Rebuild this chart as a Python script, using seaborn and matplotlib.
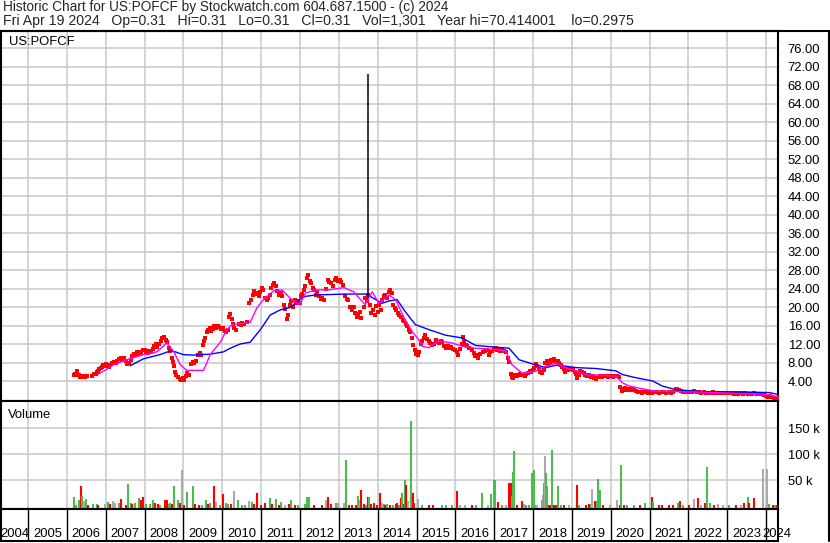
import matplotlib
matplotlib.use("Agg")
import matplotlib.pyplot as plt
import seaborn as sns
import pandas as pd

# ---------------- data ----------------
title_line1 = "Historic Chart for US:POFCF by Stockwatch.com 604.687.1500 - (c) 2024"
title_line2 = ("Fri Apr 19 2024   Op=0.31   Hi=0.31   Lo=0.31   Cl=0.31   Vol=1,301   "
               "Year hi=70.414001    lo=0.2975")
symbol = "US:POFCF"
volume_title = "Volume"

price_t = [
    2006.18, 2006.20, 2006.24, 2006.27, 2006.30, 2006.33, 2006.36, 2006.40, 2006.44, 2006.48, 2006.52,
    2006.66, 2006.70, 2006.74, 2006.78, 2006.81, 2006.84, 2006.87, 2006.90, 2006.93, 2006.96,
    2007.00, 2007.04, 2007.08, 2007.12, 2007.17, 2007.22, 2007.26, 2007.30, 2007.35, 2007.39, 2007.43, 2007.47,
    2007.52, 2007.56, 2007.60, 2007.64, 2007.68, 2007.72, 2007.76, 2007.80, 2007.84, 2007.88, 2007.92, 2007.96,
    2008.00, 2008.04, 2008.08, 2008.12, 2008.17, 2008.21, 2008.25, 2008.29, 2008.33, 2008.38, 2008.42, 2008.46, 2008.50,
    2008.54, 2008.58, 2008.62, 2008.66, 2008.70, 2008.73, 2008.76, 2008.79, 2008.82, 2008.86, 2008.90, 2008.94, 2008.98,
    2009.02, 2009.06, 2009.10, 2009.14, 2009.20, 2009.24, 2009.28, 2009.33, 2009.38, 2009.42, 2009.46, 2009.50,
    2009.53, 2009.56, 2009.60, 2009.64, 2009.68, 2009.72, 2009.76, 2009.80, 2009.84, 2009.88, 2009.92, 2009.96,
    2010.02, 2010.06, 2010.10, 2010.14, 2010.18, 2010.21, 2010.24, 2010.28, 2010.31, 2010.35, 2010.42, 2010.47,
    2010.52, 2010.56, 2010.64, 2010.70, 2010.74, 2010.78, 2010.82, 2010.86, 2010.90, 2010.94, 2010.98,
    2011.02, 2011.06, 2011.10, 2011.14, 2011.18, 2011.22, 2011.26, 2011.30, 2011.34, 2011.38, 2011.42, 2011.46,
    2011.50, 2011.54, 2011.58, 2011.62, 2011.66, 2011.70, 2011.74, 2011.78, 2011.82, 2011.86, 2011.90, 2011.95, 2011.99,
    2012.02, 2012.06, 2012.10, 2012.14, 2012.18, 2012.21, 2012.25, 2012.29, 2012.33, 2012.37, 2012.41, 2012.45,
    2012.50, 2012.54, 2012.58, 2012.62, 2012.68, 2012.72, 2012.76, 2012.80, 2012.86, 2012.90, 2012.94, 2012.98,
    2013.02, 2013.06, 2013.10, 2013.16, 2013.20, 2013.24, 2013.30, 2013.34, 2013.38, 2013.42, 2013.46, 2013.50,
    2013.54, 2013.58, 2013.64, 2013.68, 2013.72, 2013.76, 2013.80, 2013.84, 2013.88, 2013.92, 2013.96,
    2014.00, 2014.04, 2014.08, 2014.12, 2014.16, 2014.20, 2014.24, 2014.28, 2014.32, 2014.36, 2014.40, 2014.44, 2014.48,
    2014.52, 2014.56, 2014.60, 2014.64, 2014.68, 2014.72, 2014.76, 2014.80, 2014.84, 2014.88, 2014.91, 2014.95, 2014.99,
    2015.03, 2015.07, 2015.11, 2015.15, 2015.19, 2015.23, 2015.27, 2015.31, 2015.35, 2015.40, 2015.45,
    2015.50, 2015.54, 2015.58, 2015.62, 2015.66, 2015.72, 2015.76, 2015.80, 2015.86, 2015.90, 2015.95,
    2016.00, 2016.04, 2016.08, 2016.12, 2016.16, 2016.19, 2016.23, 2016.27, 2016.31, 2016.36, 2016.42,
    2016.47, 2016.51, 2016.55, 2016.59, 2016.64, 2016.70, 2016.76, 2016.82, 2016.86, 2016.90, 2016.95,
    2017.00, 2017.04, 2017.08, 2017.12, 2017.16, 2017.21, 2017.26, 2017.31, 2017.36, 2017.39, 2017.42, 2017.45, 2017.48,
    2017.51, 2017.55, 2017.59, 2017.63, 2017.67, 2017.71, 2017.75, 2017.79, 2017.83, 2017.87, 2017.91, 2017.95, 2017.99,
    2018.03, 2018.07, 2018.11, 2018.15, 2018.19, 2018.23, 2018.27, 2018.31, 2018.35, 2018.39, 2018.43, 2018.47, 2018.51,
    2018.55, 2018.59, 2018.63, 2018.67, 2018.71, 2018.75, 2018.79, 2018.83, 2018.87, 2018.91, 2018.95, 2018.99,
    2019.03, 2019.07, 2019.11, 2019.14, 2019.18, 2019.22, 2019.26, 2019.30, 2019.35, 2019.40, 2019.44,
    2019.49, 2019.54, 2019.58, 2019.62, 2019.66, 2019.72, 2019.77, 2019.82, 2019.87, 2019.92, 2019.97,
    2020.02, 2020.07, 2020.12, 2020.17, 2020.21, 2020.25, 2020.28, 2020.32, 2020.36, 2020.40, 2020.45,
    2020.50, 2020.55, 2020.60, 2020.66, 2020.71, 2020.76, 2020.81, 2020.86, 2020.91, 2020.96,
    2021.01, 2021.07, 2021.13, 2021.19, 2021.25, 2021.31, 2021.37, 2021.43, 2021.49,
    2021.55, 2021.61, 2021.67, 2021.71, 2021.75, 2021.80, 2021.86, 2021.92, 2021.97,
    2022.03, 2022.09, 2022.15, 2022.21, 2022.27, 2022.33, 2022.39, 2022.45, 2022.51,
    2022.57, 2022.63, 2022.69, 2022.75, 2022.81, 2022.87, 2022.93, 2022.98,
    2023.04, 2023.10, 2023.16, 2023.22, 2023.28, 2023.34, 2023.40, 2023.46,
    2023.52, 2023.58, 2023.64, 2023.70, 2023.76, 2023.82, 2023.88, 2023.94,
    2024.00, 2024.05, 2024.10, 2024.15, 2024.20, 2024.25, 2024.30,
]
price_c = [
    5.2, 5.6, 5.4, 6.1, 5.2, 4.9, 5.0, 4.8, 5.0, 4.9, 5.0,
    5.1, 5.5, 5.6, 5.9, 6.2, 6.5, 6.8, 7.1, 7.4, 7.2,
    7.6, 7.3, 7.1, 7.5, 7.8, 8.2, 7.9, 8.4, 8.7, 9.0, 8.6, 8.9,
    8.3, 7.6, 7.9, 8.6, 9.5, 9.9, 9.6, 10.2, 9.8, 10.3, 10.0, 10.6,
    10.8, 10.3, 10.0, 10.5, 10.2, 11.0, 11.6, 11.9, 11.4, 12.0, 12.6, 13.3, 13.6,
    12.8, 12.4, 11.2, 10.4, 9.0, 8.2, 7.2, 6.0, 5.3, 4.8, 4.4, 4.2, 4.6,
    4.3, 5.0, 5.7, 5.4, 7.6, 8.2, 7.9, 8.4, 9.7, 10.0, 9.6, 11.8,
    12.7, 13.4, 14.6, 15.0, 15.4, 14.8, 15.2, 15.8, 15.4, 16.0, 15.6, 15.2,
    15.4, 14.9, 14.6, 15.0, 17.8, 18.4, 17.5, 16.4, 15.4, 15.0, 16.4, 16.2,
    16.6, 16.3, 16.8, 20.8, 21.6, 22.5, 23.4, 22.8, 23.0, 22.3, 23.2,
    24.1, 23.7, 22.0, 21.6, 21.9, 22.6, 24.2, 24.8, 25.2, 24.5, 23.4, 22.6,
    23.0, 22.3, 20.4, 19.6, 17.4, 18.2, 20.4, 21.2, 20.1, 21.6, 20.9, 21.4, 20.8,
    22.4, 22.9, 23.7, 24.6, 26.2, 27.0, 25.6, 25.2, 24.2, 23.6, 22.7, 23.2,
    22.3, 21.8, 22.0, 21.6, 23.8, 25.9, 25.4, 25.2, 24.6, 25.9, 26.3, 25.7,
    25.9, 25.5, 24.8, 22.3, 21.8, 21.6, 20.0, 19.4, 19.9, 18.6, 17.8, 18.4,
    19.0, 17.6, 20.0, 21.9, 21.2, 22.7, 20.5, 18.6, 19.4, 18.3, 20.2,
    19.0, 20.5, 19.4, 21.6, 22.4, 22.7, 22.0, 23.3, 23.7, 23.0, 20.5, 19.8, 19.4,
    18.6, 18.3, 17.8, 17.2, 16.9, 16.3, 15.8, 15.1, 14.5, 13.2, 11.8, 10.6, 9.9,
    9.7, 10.3, 11.9, 12.6, 13.4, 14.0, 13.1, 12.6, 12.3, 11.8, 12.0,
    12.9, 12.5, 12.2, 12.7, 12.4, 11.5, 11.2, 11.5, 11.1, 11.4, 11.0,
    10.8, 10.2, 9.7, 11.0, 12.0, 13.6, 12.6, 11.8, 11.5, 11.2, 10.6,
    10.0, 9.4, 9.6, 9.0, 9.8, 10.3, 10.5, 10.8, 9.7, 10.2, 10.5,
    10.9, 11.1, 10.6, 10.8, 10.4, 10.7, 10.5, 10.2, 9.0, 8.1, 5.6, 4.8, 4.6,
    5.2, 5.4, 5.1, 5.3, 5.6, 5.2, 5.3, 5.0, 5.5, 5.7, 6.2, 5.9, 6.4,
    6.8, 7.6, 7.2, 6.6, 6.0, 5.8, 6.4, 8.0, 8.4, 7.7, 7.9, 8.6, 8.3,
    8.7, 8.1, 8.4, 8.0, 7.4, 7.0, 6.5, 5.9, 6.8, 6.3, 6.5, 6.6,
    6.4, 6.0, 5.6, 4.7, 5.4, 6.2, 5.9, 5.8, 5.4, 5.0, 5.2,
    4.9, 5.1, 4.6, 4.4, 4.8, 5.1, 4.9, 5.0, 5.1, 4.9, 5.0,
    5.1, 4.9, 5.0, 5.1, 4.8, 2.6, 1.9, 2.2, 2.4, 2.1, 2.3,
    2.0, 2.2, 2.1, 1.8, 1.6, 1.7, 1.5, 1.6, 1.8, 1.5,
    1.7, 1.5, 1.6, 1.7, 1.5, 1.6, 1.7, 1.5, 1.6,
    1.5, 1.7, 2.2, 2.3, 2.1, 1.8, 1.6, 1.7, 1.6,
    1.7, 1.6, 1.8, 1.6, 1.7, 1.5, 1.6, 1.5, 1.4,
    1.5, 1.6, 1.4, 1.5, 1.4, 1.5, 1.4, 1.5,
    1.3, 1.4, 1.2, 1.3, 1.1, 1.3, 1.2, 1.3,
    1.1, 1.2, 1.1, 1.3, 1.2, 1.1, 1.2, 1.0,
    0.8, 0.6, 0.7, 0.5, 0.4, 0.35, 0.31,
]

# one-day spike (black bar)
spike_t = 2013.745
spike_low = 21.5
spike_high = 70.414

# short moving average (magenta)
ma_fast_t = [2006.81, 2007.00, 2007.20, 2007.54, 2007.97, 2008.32, 2008.57, 2008.75, 2008.92, 2009.09,
             2009.52, 2009.69, 2009.95, 2010.12, 2010.25, 2010.72, 2010.89, 2011.06, 2011.32, 2011.54,
             2011.75, 2011.99, 2012.14, 2012.40, 2012.74, 2013.13, 2013.38, 2013.56, 2013.68, 2013.86,
             2014.03, 2014.29, 2014.46, 2014.71, 2014.89, 2015.06, 2015.14, 2015.32, 2015.57, 2015.92,
             2016.18, 2016.52, 2017.03, 2017.29, 2017.46, 2017.72, 2018.06, 2018.33, 2018.59, 2018.84,
             2019.10, 2019.36, 2019.79, 2020.13, 2020.30, 2020.48, 2020.82, 2021.16, 2021.76, 2022.37,
             2023.23, 2024.00, 2024.30]
ma_fast_v = [5.5, 6.4, 7.5, 8.6, 9.7, 10.3, 12.2, 10.4, 7.5, 6.3,
             6.3, 9.7, 12.4, 15.1, 16.2, 16.7, 19.8, 21.6, 23.5, 23.7,
             21.9, 20.5, 23.0, 23.7, 23.7, 24.2, 23.3, 21.6, 20.5, 23.3,
             20.8, 22.6, 21.6, 17.2, 14.7, 12.9, 11.5, 11.2, 12.7, 12.2,
             11.5, 11.1, 10.8, 10.6, 7.5, 5.7, 6.1, 7.2, 7.8, 6.9,
             6.2, 5.4, 5.2, 5.1, 3.6, 2.9, 2.3, 1.8, 1.7, 1.6,
             1.3, 1.1, 0.6]

# long moving average (blue)
ma_slow_t = [2007.63, 2007.97, 2008.40, 2008.66, 2008.79, 2009.00, 2009.26, 2009.69, 2010.03, 2010.21,
             2010.46, 2010.72, 2010.98, 2011.24, 2011.50, 2011.75, 2011.99, 2012.14, 2012.40, 2013.17,
             2013.68, 2013.81, 2014.11, 2014.29, 2014.50, 2014.71, 2014.97, 2015.32, 2015.75, 2016.18,
             2016.52, 2017.03, 2017.38, 2017.64, 2018.06, 2018.33, 2018.59, 2018.84, 2019.10, 2019.62,
             2020.13, 2020.30, 2020.65, 2021.08, 2021.33, 2021.68, 2022.37, 2023.57, 2024.08, 2024.30]
ma_slow_v = [7.3, 8.8, 9.7, 10.5, 10.3, 9.7, 9.6, 9.8, 10.3, 11.1,
             12.0, 12.4, 15.1, 18.3, 19.4, 19.9, 21.6, 22.3, 22.6, 22.8,
             22.8, 22.3, 20.8, 21.3, 21.6, 19.0, 16.2, 15.1, 13.9, 13.3,
             11.7, 11.3, 11.1, 8.6, 7.5, 6.9, 7.4, 7.2, 6.9, 6.7,
             6.2, 5.4, 4.7, 4.0, 2.9, 2.1, 1.7, 1.6, 1.5, 1.1]

# volume (thousands of shares); direction u=up (green), d=down (red), n=unchanged (grey)
vol_t = [
    2006.19, 2006.24, 2006.30, 2006.36, 2006.385, 2006.43, 2006.46, 2006.50, 2006.555, 2006.685, 2006.77, 2006.81,
    2006.98, 2007.07, 2007.11, 2007.18, 2007.24, 2007.33, 2007.39, 2007.53, 2007.57, 2007.65, 2007.67, 2007.76,
    2007.85, 2007.90, 2007.97, 2008.03, 2008.14, 2008.21, 2008.27, 2008.34, 2008.40, 2008.53, 2008.57, 2008.62,
    2008.66, 2008.70, 2008.76, 2008.87, 2008.92, 2008.97, 2009.02, 2009.09, 2009.24, 2009.30, 2009.39, 2009.48,
    2009.58, 2009.63, 2009.69, 2009.78, 2009.84, 2009.95, 2010.03, 2010.09, 2010.16, 2010.22, 2010.29, 2010.40,
    2010.51, 2010.59, 2010.70, 2010.76, 2010.81, 2010.89, 2011.00, 2011.11, 2011.24, 2011.29, 2011.39, 2011.46,
    2011.51, 2011.62, 2011.71, 2011.77, 2011.88, 2011.94,
    2012.14, 2012.19, 2012.23, 2012.35, 2012.57, 2012.67, 2012.72, 2012.80, 2012.93, 2012.98, 2013.13, 2013.19,
    2013.25, 2013.34, 2013.43, 2013.50, 2013.54, 2013.58, 2013.64, 2013.70, 2013.75, 2013.79, 2013.84, 2013.90,
    2013.98, 2014.07, 2014.11, 2014.16, 2014.20, 2014.24, 2014.33, 2014.39, 2014.46, 2014.50, 2014.54, 2014.59,
    2014.63, 2014.67, 2014.71, 2014.74, 2014.78, 2014.86, 2014.90, 2014.94, 2015.04, 2015.14, 2015.32, 2015.42,
    2015.66, 2015.75, 2015.92, 2016.03, 2016.13, 2016.26, 2016.43, 2016.52, 2016.69, 2016.85, 2016.93, 2016.99,
    2017.03, 2017.10, 2017.21, 2017.31, 2017.39, 2017.42, 2017.45, 2017.48, 2017.52, 2017.59, 2017.72, 2017.76,
    2017.81, 2017.89, 2017.98, 2018.03, 2018.08,
    2018.11, 2018.22, 2018.26, 2018.28, 2018.31, 2018.34, 2018.37, 2018.40, 2018.46, 2018.50, 2018.54, 2018.60,
    2018.65, 2018.71, 2018.80, 2018.93, 2019.12, 2019.19, 2019.36, 2019.43, 2019.49, 2019.53, 2019.60, 2019.64,
    2019.68, 2019.72, 2019.81, 2019.98, 2020.17, 2020.23, 2020.26, 2020.35, 2020.43, 2020.60, 2020.75, 2020.88,
    2021.06, 2021.09, 2021.25, 2021.32, 2021.49, 2021.61, 2021.72, 2021.78, 2021.85, 2022.02, 2022.15, 2022.24,
    2022.32, 2022.43, 2022.49, 2022.55, 2022.67, 2022.75, 2022.88, 2023.05, 2023.22, 2023.35, 2023.44, 2023.53,
    2023.55, 2023.70, 2023.93, 2024.02, 2024.08, 2024.17, 2024.24, 2024.29,
]
vol_k = [
    18, 3, 12, 39, 20, 10, 10, 14, 3, 5, 5, 3,
    4, 8, 5, 10, 7, 6, 14, 3, 43, 6, 4, 6,
    16, 12, 18, 4, 4, 12, 6, 4, 3, 12, 12, 4,
    7, 4, 39, 12, 6, 70, 3, 28, 39, 4, 3, 3,
    12, 4, 6, 39, 8, 3, 23, 6, 4, 4, 30, 12,
    3, 3, 10, 8, 4, 26, 3, 6, 16, 4, 14, 3,
    8, 3, 4, 12, 3, 3,
    4, 17, 18, 3, 3, 12, 17, 4, 6, 6, 6, 89,
    3, 3, 2, 20, 12, 31, 4, 3, 18, 18, 4, 6,
    3, 26, 6, 5, 3, 5, 2, 3, 5, 6, 3, 16,
    25, 5, 51, 41, 10, 164, 25, 6, 15, 2, 2, 3,
    2, 2, 2, 29, 2, 3, 3, 2, 25, 2, 23, 51,
    51, 8, 3, 3, 45, 45, 19, 66, 106, 2, 10, 5,
    2, 2, 64, 70, 3,
    3, 12, 22, 44, 97, 65, 39, 2, 2, 108, 2, 2,
    39, 3, 2, 2, 41, 2, 2, 4, 4, 33, 10, 10,
    53, 31, 2, 2, 12, 2, 80, 2, 2, 2, 2, 6,
    18, 8, 2, 2, 2, 2, 6, 10, 2, 2, 14, 16,
    3, 6, 76, 6, 2, 4, 2, 2, 2, 2, 6, 18,
    6, 16, 72, 72, 4, 2, 2, 2,
]
vol_dir = [
    "u", "u", "u", "d", "u", "n", "n", "u", "d", "u", "u", "d",
    "n", "u", "d", "n", "n", "u", "d", "d", "u", "u", "d", "u",
    "u", "d", "d", "u", "u", "u", "d", "d", "u", "d", "d", "u",
    "u", "d", "u", "u", "d", "n", "d", "u", "u", "d", "d", "u",
    "u", "d", "u", "d", "n", "u", "d", "u", "u", "d", "n", "u",
    "u", "u", "n", "u", "d", "d", "d", "d", "u", "d", "u", "d",
    "u", "n", "d", "u", "d", "u",
    "u", "u", "u", "d", "d", "n", "d", "d", "u", "n", "n", "u",
    "d", "d", "d", "u", "n", "d", "d", "u", "d", "u", "d", "d",
    "d", "d", "n", "u", "d", "u", "d", "u", "d", "d", "u", "d",
    "u", "d", "u", "d", "n", "u", "d", "d", "n", "u", "d", "d",
    "u", "u", "u", "d", "n", "n", "d", "u", "u", "n", "u", "u",
    "u", "d", "u", "n", "d", "d", "u", "u", "u", "d", "d", "n",
    "u", "u", "u", "u", "u",
    "n", "u", "n", "u", "n", "u", "u", "d", "d", "u", "d", "d",
    "u", "u", "d", "n", "d", "u", "d", "d", "u", "n", "d", "u",
    "u", "u", "d", "n", "n", "d", "u", "d", "u", "u", "d", "u",
    "d", "u", "d", "d", "d", "d", "u", "d", "u", "d", "n", "d",
    "n", "d", "u", "u", "d", "n", "n", "u", "d", "n", "d", "u",
    "d", "d", "n", "n", "u", "d", "u", "d",
]

price_ticks = [4, 8, 12, 16, 20, 24, 28, 32, 36, 40, 44, 48, 52, 56, 60, 64, 68, 72, 76]
volume_ticks = [50, 100, 150]
volume_tick_labels = ["50 k", "100 k", "150 k"]
year_labels = list(range(2004, 2025))

assert len(price_t) == len(price_c)
assert len(ma_fast_t) == len(ma_fast_v)
assert len(ma_slow_t) == len(ma_slow_v)
assert len(vol_t) == len(vol_k) == len(vol_dir)

# ---------------- style ----------------
sns.set_theme(style="white")
plt.rcParams["font.family"] = ["Liberation Sans", "DejaVu Sans"]

W, H = 830, 543
fig = plt.figure(figsize=(W / 100, H / 100), dpi=100)
fig.patch.set_facecolor("white")


def box(x0, y0, x1, y1):
    return [x0 / W, 1 - y1 / H, (x1 - x0) / W, (y1 - y0) / H]


X_LEFT, X_RIGHT = 2004.305, 2024.305
GRID = "#c8c8c8"
GREEN, RED, GREY = "#4dbb4d", "#ff0000", "#aaaaaa"
FS = 9.4
FS_HEAD1 = 9.8
FS_HEAD2 = 10.2

ax_p = fig.add_axes(box(1, 31, 778, 401))
ax_v = fig.add_axes(box(1, 401, 778, 509))
ax_x = fig.add_axes(box(1, 509, 778, 541))

year_lines = list(range(2005, 2025))
for ax in (ax_p, ax_v, ax_x):
    ax.set_xlim(X_LEFT, X_RIGHT)
    ax.set_facecolor("white")
    for s in ax.spines.values():
        s.set_color("black")
        s.set_linewidth(1.5)
    ax.set_xticks([])

# ---------- price panel ----------
ax_p.set_ylim(-0.324, 79.68)
for y in price_ticks:
    ax_p.axhline(y, color=GRID, lw=1.1, zorder=0)
for yr in year_lines:
    ax_p.axvline(yr, color=GRID, lw=1.1, zorder=0)

price_df = pd.DataFrame({"t": price_t, "close": price_c})
sns.scatterplot(data=price_df, x="t", y="close", ax=ax_p, marker="s", s=5.5,
                color=RED, linewidth=0, zorder=3, legend=False)
ax_p.vlines(spike_t, spike_low, spike_high, color="black", lw=1.1, zorder=4)
sns.lineplot(x=ma_slow_t, y=ma_slow_v, ax=ax_p, color="#0000ff", lw=1.0,
             estimator=None, sort=False, zorder=5)
sns.lineplot(x=ma_fast_t, y=ma_fast_v, ax=ax_p, color="#ff00ff", lw=1.0,
             estimator=None, sort=False, zorder=5)

ax_p.yaxis.tick_right()
ax_p.set_yticks(price_ticks)
ax_p.set_yticklabels([f"{v:.2f}" for v in price_ticks], fontsize=FS)
ax_p.tick_params(axis="y", length=0, pad=7, labelcolor="black")
ax_p.set_xlabel("")
ax_p.set_ylabel("")
ax_p.text(0.010, 0.969, symbol, transform=ax_p.transAxes, fontsize=FS,
          va="center", ha="left", color="black")

# ---------- volume panel ----------
V_BOTTOM = -5.19
ax_v.set_ylim(V_BOTTOM, 202.5)
for y in volume_ticks:
    ax_v.axhline(y, color=GRID, lw=1.1, zorder=0)
for yr in year_lines:
    ax_v.axvline(yr, color=GRID, lw=1.1, zorder=0)
cmap = {"u": GREEN, "d": RED, "n": GREY}
ax_v.vlines(vol_t, V_BOTTOM, vol_k, colors=[cmap[d] for d in vol_dir], lw=1.5, zorder=3)
ax_v.yaxis.tick_right()
ax_v.set_yticks(volume_ticks)
ax_v.set_yticklabels(volume_tick_labels, fontsize=FS)
ax_v.tick_params(axis="y", length=0, pad=7, labelcolor="black")
ax_v.text(0.009, 0.87, volume_title, transform=ax_v.transAxes, fontsize=FS,
          va="center", ha="left", color="black")

# ---------- year band ----------
ax_x.set_ylim(0, 1)
ax_x.set_yticks([])
for yr in year_lines:
    ax_x.axvline(yr, color="black", lw=1.0)
for yr in year_labels:
    lo, hi = max(yr, X_LEFT), min(yr + 1, X_RIGHT)
    xc = (lo + hi) / 2
    if yr == year_labels[-1]:
        xc = yr + 0.27
    ax_x.text(xc, 0.22, str(yr), ha="center", va="center",
              fontsize=FS, color="black", clip_on=False)

# ---------- header ----------
fig.text(3 / W, 1 - 11.5 / H, title_line1, fontsize=FS_HEAD1, ha="left", va="baseline")
fig.text(3 / W, 1 - 25.5 / H, title_line2, fontsize=FS_HEAD2, ha="left", va="baseline")
fig.add_artist(plt.Line2D([0, 1], [1 - 31 / H, 1 - 31 / H], color="black", lw=1.5))
fig.add_artist(plt.Line2D([828.5 / W, 828.5 / W], [1 - 31 / H, 1 - 541 / H], color="black", lw=1.5))

fig.savefig("out.png", dpi=100, facecolor="white")
